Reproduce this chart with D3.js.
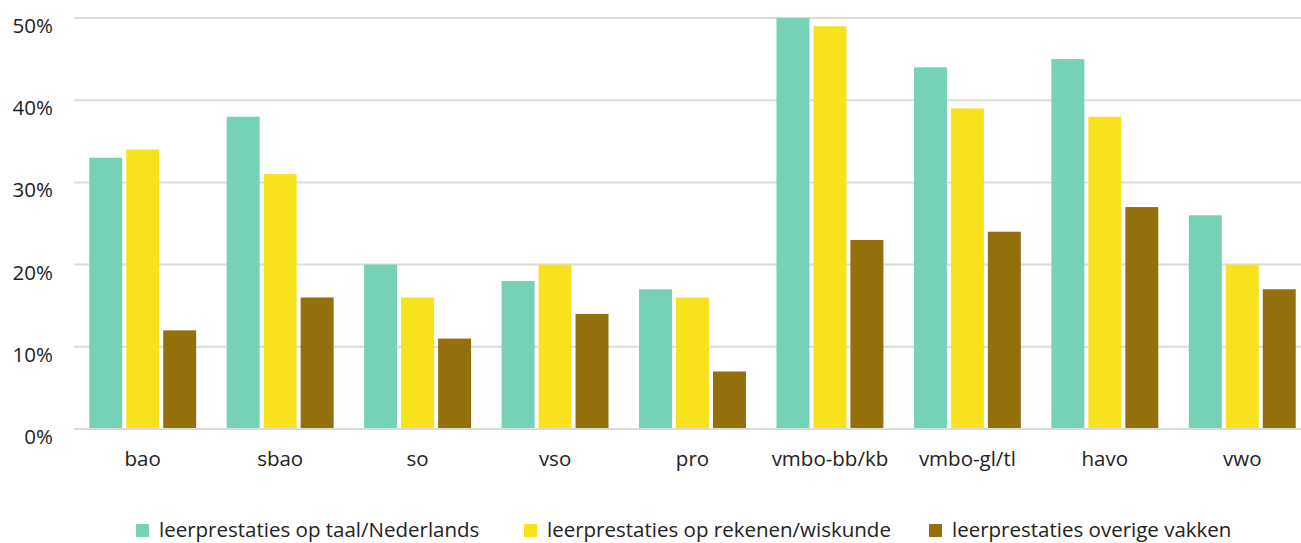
<!DOCTYPE html>
<html>
<head>
<meta charset="utf-8">
<script src="https://cdn.jsdelivr.net/npm/d3@7"></script>
<style>
  html, body { margin: 0; padding: 0; background: #fff; }
  svg { display: block; font-family: "Open Sans", "Noto Sans", sans-serif; }
</style>
</head>
<body>
<div id="chart"></div>
<script>
// Data
const categories = ['bao', 'sbao', 'so', 'vso', 'pro', 'vmbo-bb/kb', 'vmbo-gl/tl', 'havo', 'vwo'];
const seriesNames = ['leerprestaties op taal/Nederlands', 'leerprestaties op rekenen/wiskunde', 'leerprestaties overige vakken'];
const taal = [33, 38, 20, 18, 17, 50, 44, 45, 26];
const rekenen = [34, 31, 16, 20, 16, 49, 39, 38, 20];
const overig = [12, 16, 11, 14, 7, 23, 24, 27, 17];
const yTicks = [0, 10, 20, 30, 40, 50];
const colors = ['#76d2b6', '#f8e11d', '#94700c'];

const width = 1301, height = 543;
const series = [taal, rekenen, overig];

const svg = d3.select('#chart').append('svg')
    .attr('width', width)
    .attr('height', height);

const x = d3.scaleBand()
    .domain(categories)
    .range([74, 1311])
    .paddingInner(0.222)
    .paddingOuter(0.111);

const x1 = d3.scaleBand()
    .domain(d3.range(series.length))
    .range([0, x.bandwidth()])
    .paddingInner(0.108)
    .paddingOuter(0);

const y = d3.scaleLinear()
    .domain([0, 50])
    .range([429, 18]);

// Gridlines
svg.append('g')
    .selectAll('line')
    .data(yTicks)
    .join('line')
    .attr('x1', 74).attr('x2', width)
    .attr('y1', d => y(d)).attr('y2', d => y(d))
    .attr('stroke', '#dcdcdc')
    .attr('stroke-width', 2);

// Y labels
svg.append('g')
    .selectAll('text')
    .data(yTicks)
    .join('text')
    .attr('x', 53)
    .attr('y', d => y(d) + 15)
    .attr('text-anchor', 'end')
    .attr('font-size', '20.5px')
    .attr('fill', '#222')
    .text(d => d + '%');

// Bars
const groups = svg.append('g')
    .selectAll('g')
    .data(categories)
    .join('g')
    .attr('transform', d => `translate(${x(d)},0)`);

groups.selectAll('rect')
    .data((c, i) => series.map((s, k) => ({ k, v: s[i] })))
    .join('rect')
    .attr('x', d => x1(d.k))
    .attr('width', x1.bandwidth())
    .attr('y', d => y(d.v))
    .attr('height', d => y(0) - y(d.v) - 1)
    .attr('fill', d => colors[d.k]);

// X labels
svg.append('g')
    .selectAll('text')
    .data(categories)
    .join('text')
    .attr('x', d => x(d) + x.bandwidth() / 2)
    .attr('y', 466)
    .attr('text-anchor', 'middle')
    .attr('font-size', '20.5px')
    .attr('fill', '#222')
    .text(d => d);

// Legend
const legendX = [136, 524, 929];
const legend = svg.append('g')
    .selectAll('g')
    .data(seriesNames)
    .join('g')
    .attr('transform', (d, i) => `translate(${legendX[i]},0)`);

legend.append('rect')
    .attr('y', 524)
    .attr('width', 13)
    .attr('height', 13)
    .attr('fill', (d, i) => colors[i]);

legend.append('text')
    .attr('x', 23)
    .attr('y', 537)
    .attr('font-size', '20.5px')
    .attr('fill', '#222')
    .text(d => d);
</script>
</body>
</html>
